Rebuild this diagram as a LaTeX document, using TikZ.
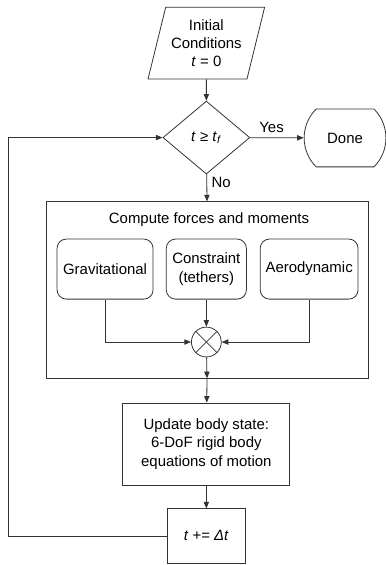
\documentclass[tikz,border=0pt]{standalone}
\usepackage{fontspec}
\setmainfont{Liberation Sans}
\usepackage{tikz}
\usetikzlibrary{positioning, shapes.misc, shapes.geometric, arrows.meta}
\tikzset{
  block/.style={rectangle, draw, align=center},
  roundblock/.style={rectangle, rounded corners=7pt, draw, align=center},
  arrow/.style={-{Triangle[length=5pt, width=4pt]}},
}

\begin{document}
\begin{tikzpicture}[line width=0.6pt, draw=black!80,
    every node/.style={font=\fontsize{11.25}{13.8}\selectfont}]
  \tikzset{
    inputbox/.style={trapezium, trapezium left angle=73, trapezium right angle=107,
      trapezium stretches=true, draw, align=center, minimum width=3.1cm, minimum height=1.9cm},
    decision/.style={diamond, draw, inner sep=0pt, minimum width=2.3cm, minimum height=1.93cm},
    endbox/.style={rounded rectangle, rounded rectangle arc length=90, draw,
      minimum width=2.05cm, minimum height=1.53cm},
    sumnode/.style={circle, draw, minimum size=0.79cm, inner sep=0pt},
  }
  \useasboundingbox (0,0) rectangle (10.19,-14.95);

  % Start and loop test
  \node[inputbox] (init) at (5.46,-1.14) {Initial\\Conditions\\\textit{t} = 0};
  \node[decision] (check) at (5.46,-3.64) {\textit{t} ≥ \textit{t}\textsubscript{\textit{f}}};
  \node[endbox] (done) at (9.13,-3.65) {Done};

  % Force computation
  \node[block, minimum width=8.52cm, minimum height=4.66cm] (forces) at (5.477,-7.67) {};
  \node (title) at (5.53,-5.82) {Compute forces and moments};
  \node[roundblock, minimum width=2.54cm, minimum height=1.59cm] (grav) at (2.78,-7.12) {Gravitational};
  \node[roundblock, minimum width=2.12cm, minimum height=1.59cm] (tether) at (5.46,-7.12) {Constraint\\(tethers)};
  \node[roundblock, minimum width=2.59cm, minimum height=1.59cm] (aero) at (8.18,-7.12) {Aerodynamic};
  \node[sumnode] (sum) at (5.46,-9.05) {};
  \draw (sum.north west) -- (sum.south east);
  \draw (sum.north east) -- (sum.south west);

  % State update
  \node[block, minimum width=4.42cm, minimum height=2.17cm] (update) at (5.46,-11.75)
    {Update body state:\\6-DoF rigid body\\equations of motion};
  \node[block, minimum width=2.04cm, minimum height=1.43cm] (tstep) at (5.46,-14.18) {\textit{t} += \textit{Δt}};
  \coordinate (back) at (0.21,-14.18);

  % Connectors
  \draw[arrow] (init) -- (check);
  \draw[arrow] (check) -- node[above, pos=0.4] {Yes} (done);
  \draw[arrow] (check) -- node[right, pos=0.3] {No} (forces.north);
  \draw[arrow] (grav.south) |- (sum.west);
  \draw[arrow] (aero.south) |- (sum.east);
  \draw[arrow] (tether) -- (sum);
  \draw[arrow] (sum) -- (forces.south);
  \draw[arrow] (forces.south) -- (update);
  \draw[arrow] (update) -- (tstep);
  \draw[arrow] (tstep.west) -- (back) |- (check.west);

\end{tikzpicture}
\end{document}
